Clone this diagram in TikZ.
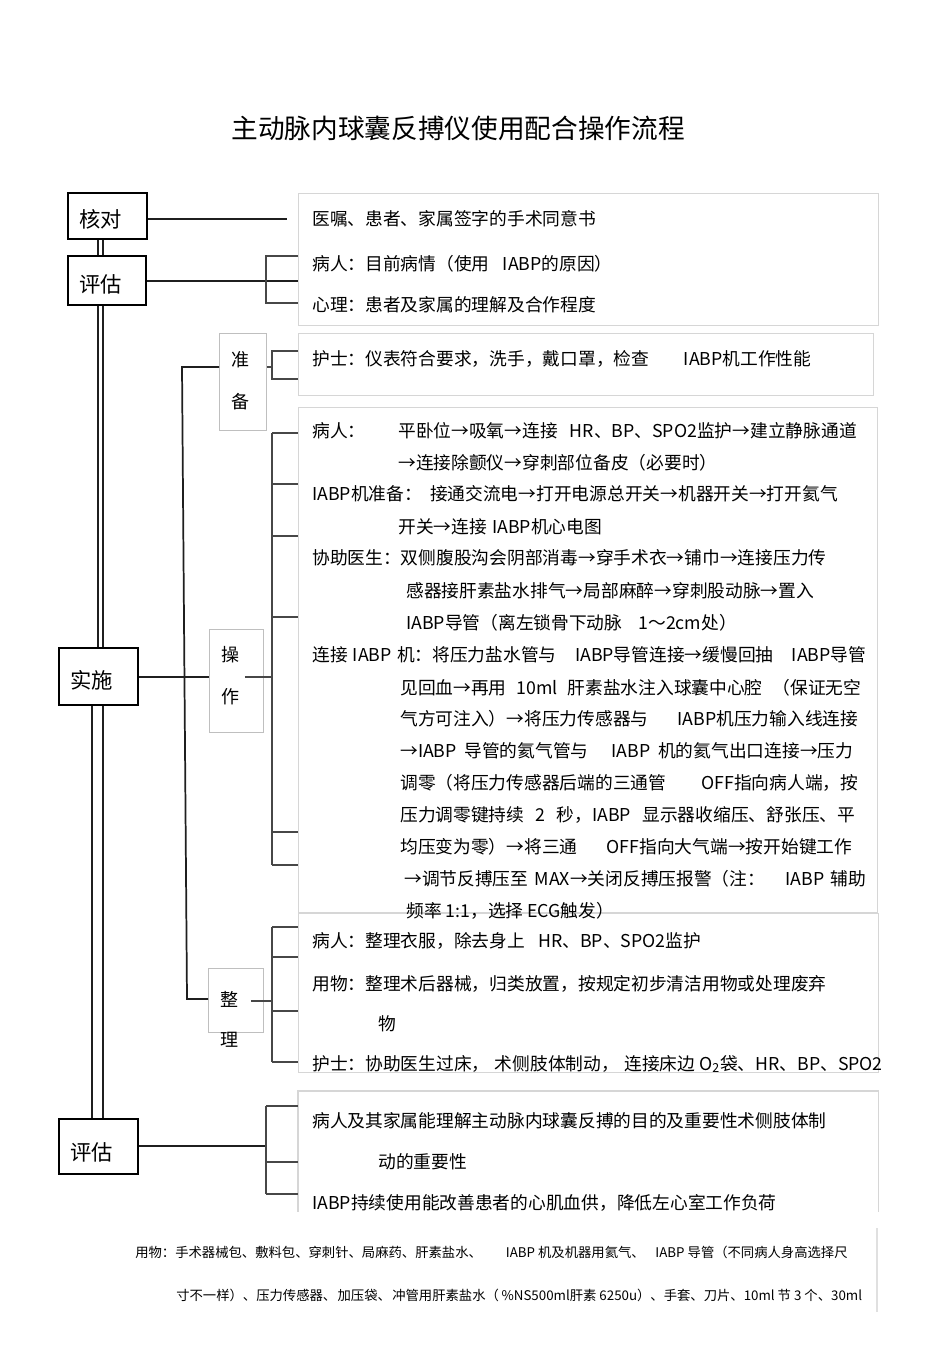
\documentclass[tikz,border=0pt]{standalone}
\usepackage{fontspec}
\setmainfont{Noto Sans CJK SC}
\newcommand{\spreadto}[2]{\makebox[#1][s]{#2}}
\begin{document}
\begin{tikzpicture}[x=0.75pt,y=-0.75pt,
  lbox/.style={draw=black,line width=1.6pt,inner sep=0pt,anchor=north west},
  tbox/.style={draw=black!16,line width=0.8pt,inner sep=0pt,anchor=north west},
  sbox/.style={draw=black!25,line width=0.7pt,inner sep=0pt,anchor=north west},
  conn/.style={draw=black!88,line width=1.3pt},
  brk/.style={draw=black!72,line width=1pt},
  txt/.style={anchor=west,inner sep=0pt,font=\fontsize{13.3}{15}\selectfont},
  small/.style={anchor=west,inner sep=0pt,font=\fontsize{10}{12}\selectfont},
  big/.style={anchor=west,inner sep=0pt,font=\fontsize{16}{18}\selectfont},
]
\useasboundingbox[fill=white] (0,0) rectangle (950,1345);

% title
\node[inner sep=0pt,font=\fontsize{20}{22}\selectfont] (title) at (458,128) {主动脉内球囊反搏仪使用配合操作流程};

% left boxes
\node[lbox,minimum width=59.25pt,minimum height=34.5pt] (hd) at (67,192) {};
\node[lbox,minimum width=58.5pt,minimum height=36.75pt] (pg1) at (67,255) {};
\node[lbox,minimum width=59.25pt,minimum height=42.75pt] (ss) at (58,647) {};
\node[lbox,minimum width=59.25pt,minimum height=41.25pt] (pg2) at (58,1118) {};
\node[big] (hdt) at (79,219) {核对};
\node[big] (pg1t) at (79,284) {评估};
\node[big] (sst) at (70,680) {实施};
\node[big] (pg2t) at (70,1152) {评估};

% small boxes
\node[sbox,minimum width=35.25pt,minimum height=72.75pt] (zb) at (219,333) {};
\node[sbox,minimum width=40.5pt,minimum height=77.25pt] (cz) at (209,629) {};
\node[sbox,minimum width=41.25pt,minimum height=48pt] (zl) at (208,968) {};
\node[inner sep=0pt,align=center,font=\fontsize{13.5}{31.5}\selectfont] (zbt) at (240,381) {准\\备};
\node[inner sep=0pt,align=center,font=\fontsize{13.5}{31.5}\selectfont] (czt) at (230,676) {操\\作};
\node[inner sep=0pt,align=center,font=\fontsize{13.5}{30}\selectfont] (zlt) at (229,1019) {整\\理};

% text boxes
\node[tbox,minimum width=435pt,minimum height=99pt] (tb1) at (298,193) {};
\node[tbox,minimum width=431.25pt,minimum height=46.5pt] (tb2) at (298,333) {};
\node[tbox,minimum width=434.25pt,minimum height=378.75pt] (tb3) at (298,407) {};
\node[tbox,minimum width=435pt,minimum height=119.25pt] (tb4) at (298,913) {};
\node[inner sep=0pt,anchor=north west,minimum width=435pt,minimum height=90pt] (tb5) at (298,1091) {};
\draw[draw=black!16,line width=0.8pt] (tb5.south west) -- (tb5.north west) -- (tb5.north east) -- (tb5.south east);

% double trunk
\draw[conn] (hd.south -| 98,0) -- (pg1.north -| 98,0);
\draw[conn] (hd.south -| 103,0) -- (pg1.north -| 103,0);
\draw[conn] (pg1.south -| 98,0) -- (ss.north -| 98,0);
\draw[conn] (pg1.south -| 103,0) -- (ss.north -| 103,0);
\draw[conn] (ss.south -| 92,0) -- (pg2.north -| 92,0);
\draw[conn] (ss.south -| 103,0) -- (pg2.north -| 103,0);

% 核对
\draw[conn] (hd.east |- 0,219) -- (287,219);
% 评估 1
\draw[conn] (pg1.east |- 0,281) -- (tb1.west |- 0,281);
\draw[brk] (tb1.west |- 0,256) -- (266,256) -- (266,303) -- (tb1.west |- 0,303);
% 实施
\draw[conn] (ss.east |- 0,677) -- (cz.west |- 0,677);
\draw[conn] (zb.west |- 0,367) -- (182,367) -- (187,999) -- (zl.west |- 0,999);
% 准备
\draw[brk] (zb.east |- 0,367) -- (272,367);
\draw[brk] (tb2.west |- 0,351) -- (272,351) -- (272,379) -- (tb2.west |- 0,379);
% 操作
\draw[brk] (cz.east |- 0,677) ++(-19,0) -- (272,677);
\draw[brk] (272,433) -- (272,865);
\foreach \yy in {433,484,536,617,832,865} \draw[brk] (272,\yy) -- (tb3.west |- 0,\yy);
% 整理
\draw[brk] (zl.east |- 0,1001) ++(-13,0) -- (272,1001);
\draw[brk] (272,927) -- (272,1062);
\foreach \yy in {927,957,1011,1062} \draw[brk] (272,\yy) -- (tb4.west |- 0,\yy);
% 评估 2
\draw[conn] (pg2.east |- 0,1146) -- (266,1146);
\draw[brk] (266,1106) -- (266,1194);
\foreach \yy in {1106,1162,1194} \draw[brk] (266,\yy) -- (tb5.west |- 0,\yy);

% texts box 1
\node[txt] (a1) at (312,219) {医嘱、患者、家属签字的手术同意书};
\node[txt] (a2) at (312,264) {病人：目前病情（使用\hspace{10pt}IABP的原因）};
\node[txt] (a3) at (312,305) {心理：患者及家属的理解及合作程度};
% box 2
\node[txt] (b1) at (312,359) {护士：仪表符合要求，洗手，戴口罩，检查\hspace{26pt}IABP机工作性能};
% box 3
\node[txt] (c0) at (312,431) {病人：};
\node[txt] (c1) at (398,431) {平卧位→吸氧→连接\hspace{9pt}HR、BP、SPO2监护→建立静脉通道};
\node[txt] (c2) at (398,463) {→连接除颤仪→穿刺部位备皮（必要时）};
\node[txt] (c3) at (312,494) {IABP机准备：\hspace{6pt}接通交流电→打开电源总开关→机器开关→打开氦气};
\node[txt] (c4) at (398,527) {开关→连接\hspace{4pt}IABP机心电图};
\node[txt] (c5) at (312,558) {协助医生：双侧腹股沟会阴部消毒→穿手术衣→铺巾→连接压力传};
\node[txt] (c6) at (406,591) {感器接肝素盐水排气→局部麻醉→穿刺股动脉→置入};
\node[txt] (c7) at (406,623) {IABP导管（离左锁骨下动脉\hspace{12pt}1～2cm处）};
\node[txt] (c8) at (312,655) {\spreadto{415.5pt}{连接 IABP 机：将压力盐水管与 \hspace{6pt} IABP导管连接→缓慢回抽 \hspace{6pt} IABP导管}};
\node[txt] (c9) at (400,688) {\spreadto{345.75pt}{见回血→再用 10ml 肝素盐水注入球囊中心腔 （保证无空}};
\node[txt] (c10) at (400,719) {\spreadto{343.5pt}{气方可注入）→将压力传感器与 IABP机压力输入线连接}};
\node[txt] (c11) at (400,751) {\spreadto{339.75pt}{→IABP 导管的氦气管与 \hspace{6pt} IABP 机的氦气出口连接→压力}};
\node[txt] (c12) at (400,783) {\spreadto{343.5pt}{调零（将压力传感器后端的三通管 \hspace{10pt} OFF指向病人端，按}};
\node[txt] (c13) at (400,815) {\spreadto{341.25pt}{压力调零键持续 2 秒，IABP 显示器收缩压、舒张压、平}};
\node[txt] (c14) at (400,847) {\spreadto{339pt}{均压变为零）→将三通 \hspace{6pt} OFF指向大气端→按开始键工作}};
\node[txt] (c15) at (404,879) {\spreadto{346.5pt}{→调节反搏压至 MAX→关闭反搏压报警（注： \hspace{6pt} IABP 辅助}};
\node[txt] (c16) at (406,911) {频率 1:1，选择 ECG触发）};
% box 4
\node[txt] (d1) at (312,941) {病人：整理衣服，除去身上\hspace{10pt}HR、BP、SPO2监护};
\node[txt] (d2) at (312,984) {用物：整理术后器械，归类放置，按规定初步清洁用物或处理废弃};
\node[txt] (d3) at (378,1024) {物};
\node[txt] (d4) at (312,1064) {护士：协助医生过床，\hspace{4pt}术侧肢体制动，\hspace{4pt}连接床边\hspace{3pt}O\textsubscript{2}袋、HR、BP、SPO2};
% box 5
\node[txt] (e1) at (312,1121) {病人及其家属能理解主动脉内球囊反搏的目的及重要性术侧肢体制};
\node[txt] (e2) at (378,1162) {动的重要性};
\node[txt] (e3) at (312,1203) {IABP持续使用能改善患者的心肌血供，降低左心室工作负荷};

% footer
\node[small] (f1) at (135,1252) {用物：手术器械包、敷料包、穿刺针、局麻药、肝素盐水、\hspace{18pt}IABP 机及机器用氦气、\hspace{8pt}IABP 导管（不同病人身高选择尺};
\node[small] (f2) at (176,1295) {寸不一样）、压力传感器、\hspace{1pt}加压袋、\hspace{1pt}冲管用肝素盐水（\hspace{2pt}\%NS500ml肝素 6250u）、手套、刀片、10ml 节 3 个、30ml};
\draw[draw=black!12,line width=0.8pt] (f1.east -| 877,0) ++(0,-24) -- (877,1312);
\end{tikzpicture}
\end{document}
